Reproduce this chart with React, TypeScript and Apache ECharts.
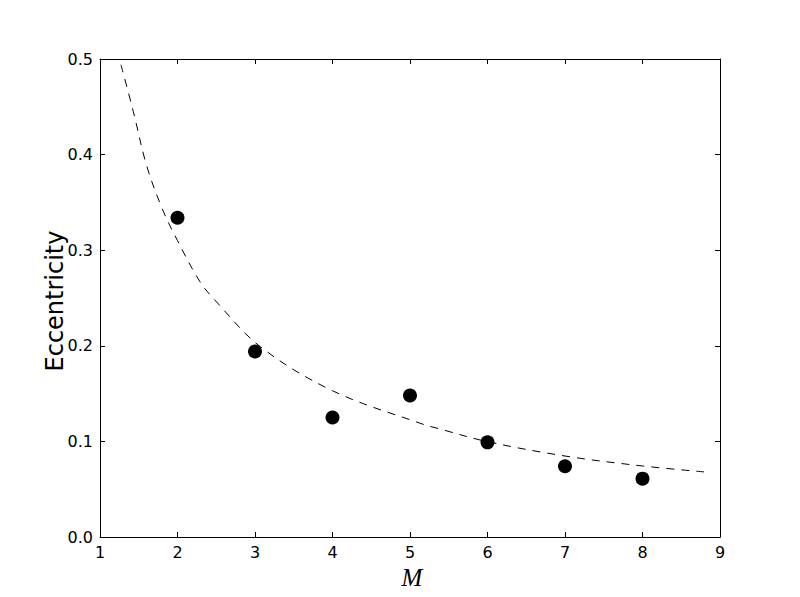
import React, { useEffect, useRef } from "react";
import * as echarts from "echarts";

// Observed data points (M, eccentricity)
const pointM = [2, 3, 4, 5, 6, 7, 8];
const pointE = [0.334, 0.194, 0.125, 0.148, 0.099, 0.074, 0.061];

// Dashed fitted curve
const curveM = [1.27, 1.43, 1.6, 1.8, 2.0, 2.29, 2.48, 3.07, 4.0, 5.13, 5.43, 6.0, 7.0, 8.0, 8.85];
const curveE = [0.494, 0.445, 0.389, 0.344, 0.31, 0.267, 0.248, 0.199, 0.153, 0.119, 0.112, 0.0997, 0.0847, 0.0743, 0.0677];

const xTicks = { min: 1, max: 9, interval: 1 };
const yTicks = { min: 0, max: 0.5, interval: 0.1 };

const FONT = "DejaVu Sans";

export default function App() {
  const ref = useRef<HTMLDivElement>(null);
  useEffect(() => {
    if (!ref.current) return;
    const chart = echarts.init(ref.current, undefined, { renderer: "svg" });
    const axisLine = { show: true, onZero: false, lineStyle: { color: "#000", width: 1 } };
    const tick = { show: true, inside: true, length: 5, lineStyle: { color: "#000", width: 1 } };
    const label = { color: "#000", fontFamily: FONT, fontSize: 16 };
    chart.setOption({
      animation: false,
      backgroundColor: "#fff",
      grid: { left: 100, top: 59, width: 620, height: 478, containLabel: false },
      xAxis: [
        {
          type: "value",
          position: "bottom",
          ...xTicks,
          axisLine,
          axisTick: tick,
          splitLine: { show: false },
          axisLabel: { ...label, margin: 7 },
          name: "M",
          nameLocation: "middle",
          nameGap: 28,
          nameMoveOverlap: false,
          nameTextStyle: { fontFamily: "Liberation Serif", fontStyle: "italic", fontSize: 25, color: "#000", padding: [0, 0, 0, 4] },
        },
        {
          type: "value",
          position: "top",
          ...xTicks,
          axisLine,
          axisTick: tick,
          splitLine: { show: false },
          axisLabel: { show: false },
        },
      ],
      yAxis: [
        {
          type: "value",
          position: "left",
          ...yTicks,
          axisLine,
          axisTick: tick,
          splitLine: { show: false },
          axisLabel: { ...label, margin: 7, formatter: (v: number) => v.toFixed(1) },
          name: "Eccentricity",
          nameLocation: "middle",
          nameGap: 33,
          nameMoveOverlap: false,
          nameTextStyle: { fontFamily: FONT, fontSize: 24, color: "#000", padding: [0, 6, 0, 0] },
        },
        {
          type: "value",
          position: "right",
          ...yTicks,
          axisLine,
          axisTick: tick,
          splitLine: { show: false },
          axisLabel: { show: false },
        },
      ],
      series: [
        {
          type: "line",
          data: curveM.map((m, i) => [m, curveE[i]]),
          smooth: 0.35,
          showSymbol: false,
          symbol: "none",
          lineStyle: { color: "#000", width: 1, type: [8, 7] },
          clip: true,
          z: 2,
        },
        {
          type: "scatter",
          data: pointM.map((m, i) => [m, pointE[i]]),
          symbol: "circle",
          symbolSize: 14,
          itemStyle: { color: "#000", opacity: 1 },
          z: 3,
        },
      ],
    });
    return () => chart.dispose();
  }, []);
  return <div ref={ref} style={{ width: 800, height: 597, position: "absolute", left: 0, top: 0 }} />;
}
